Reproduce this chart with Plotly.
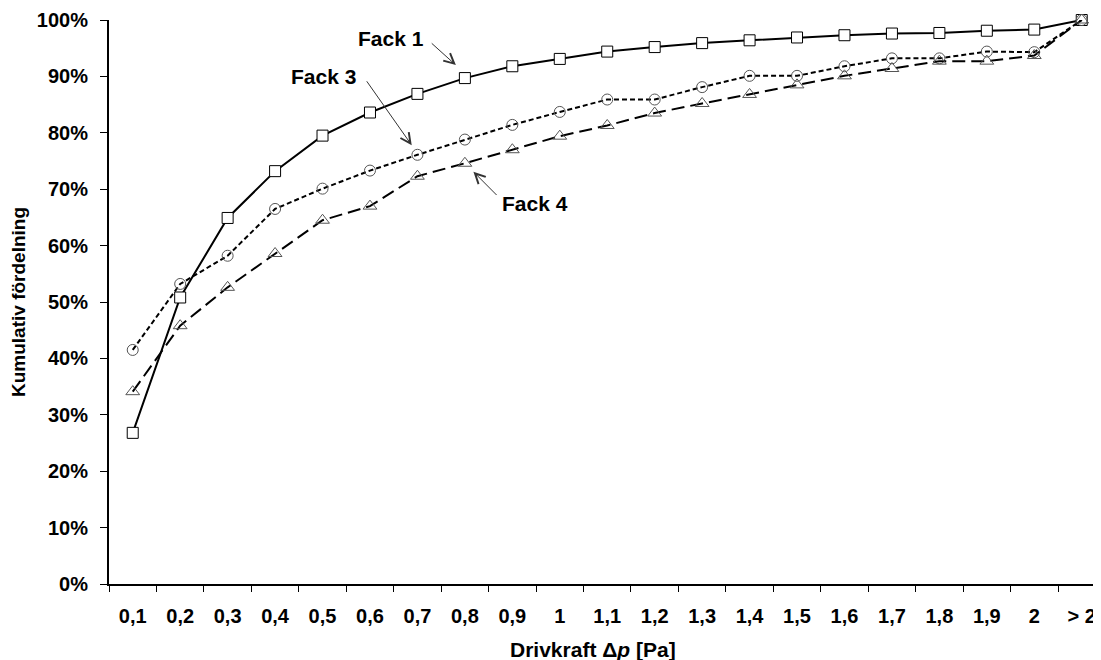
import plotly.graph_objects as go

categories = ["0,1", "0,2", "0,3", "0,4", "0,5", "0,6", "0,7", "0,8", "0,9", "1",
              "1,1", "1,2", "1,3", "1,4", "1,5", "1,6", "1,7", "1,8", "1,9", "2", "> 2"]
fack1 = [0.268, 0.508, 0.649, 0.732, 0.795, 0.836, 0.869, 0.897, 0.918, 0.931,
         0.944, 0.952, 0.959, 0.964, 0.969, 0.973, 0.976, 0.977, 0.981, 0.983, 1.0]
fack3 = [0.415, 0.532, 0.582, 0.665, 0.701, 0.733, 0.761, 0.788, 0.814, 0.837,
         0.859, 0.859, 0.881, 0.901, 0.901, 0.918, 0.932, 0.932, 0.944, 0.943, 1.0]
fack4 = [0.341, 0.458, 0.526, 0.586, 0.645, 0.670, 0.723, 0.746, 0.770, 0.794,
         0.813, 0.835, 0.852, 0.868, 0.885, 0.901, 0.914, 0.927, 0.927, 0.937, 1.0]

FONT = "Liberation Sans, Arial, sans-serif"
MARK_GREY = "#555555"

fig = go.Figure()
fig.add_scatter(x=categories, y=fack1, mode="lines+markers", name="Fack 1", cliponaxis=False,
                line=dict(color="black", width=2),
                marker=dict(symbol="square", size=11, color="white",
                            line=dict(color="black", width=1)))
fig.add_scatter(x=categories, y=fack3, mode="lines+markers", name="Fack 3", cliponaxis=False,
                line=dict(color="black", width=2, dash="5px,3px"),
                marker=dict(symbol="circle-open", size=11, color=MARK_GREY,
                            line=dict(width=1)))
fig.add_scatter(x=categories, y=fack4, mode="lines+markers", name="Fack 4", cliponaxis=False,
                line=dict(color="black", width=2, dash="13px,6px"),
                marker=dict(symbol="triangle-up-open", size=12, color=MARK_GREY,
                            line=dict(width=1)))

# labels with separate thin arrows (tail -> tip in data coords)
labels = [("Fack 1", 5.44, 0.968, (6.27, 0.961), (6.81, 0.920)),
          ("Fack 3", 4.01, 0.899, (4.91, 0.894), (5.88, 0.778)),
          ("Fack 4", 8.48, 0.674, (7.70, 0.687), (7.18, 0.731))]
for txt, tx, ty, tail, tip in labels:
    fig.add_annotation(x=tx, y=ty, text=f"<b>{txt}</b>", showarrow=False,
                       font=dict(family=FONT, size=21, color="black"))
    fig.add_annotation(x=tip[0], y=tip[1], ax=tail[0], ay=tail[1], axref="x", ayref="y",
                       text="", showarrow=True, arrowhead=5, arrowsize=2, arrowwidth=1,
                       arrowcolor="#333333")

# x title sits a little left of the plot centre in the original
fig.add_annotation(x=0.4884, y=-0.1155, xref="paper", yref="paper", showarrow=False,
                   text="<b>Drivkraft Δ<i>p</i> [Pa]</b>", yanchor="middle",
                   font=dict(family=FONT, size=21, color="black"))

# page body adds an 8px margin, so the figure is 8px smaller and margins shifted
fig.update_layout(
    width=1093, height=652, showlegend=False,
    margin=dict(l=101, r=0, t=12, b=76),
    plot_bgcolor="white", paper_bgcolor="white",
    font=dict(family=FONT, color="black"),
    xaxis=dict(type="category", range=[-0.5, 20.406], showline=True, linecolor="black",
               linewidth=2, ticks="outside", tickson="boundaries", ticklen=6,
               tickcolor="black", showgrid=False, zeroline=False, automargin=False,
               tickfont=dict(family=FONT, size=20, weight="bold"), ticklabelstandoff=13),
    yaxis=dict(range=[0, 1], dtick=0.1, tickformat=".0%", showline=True, linecolor="black",
               linewidth=2, ticks="outside", ticklen=7, tickcolor="black",
               showgrid=False, zeroline=False, automargin=False,
               tickfont=dict(family=FONT, size=20, weight="bold"), ticklabelstandoff=8,
               title=dict(text="<b>Kumulativ fördelning</b>", standoff=8,
                          font=dict(family=FONT, size=19))),
)

fig.write_html("out.html")
